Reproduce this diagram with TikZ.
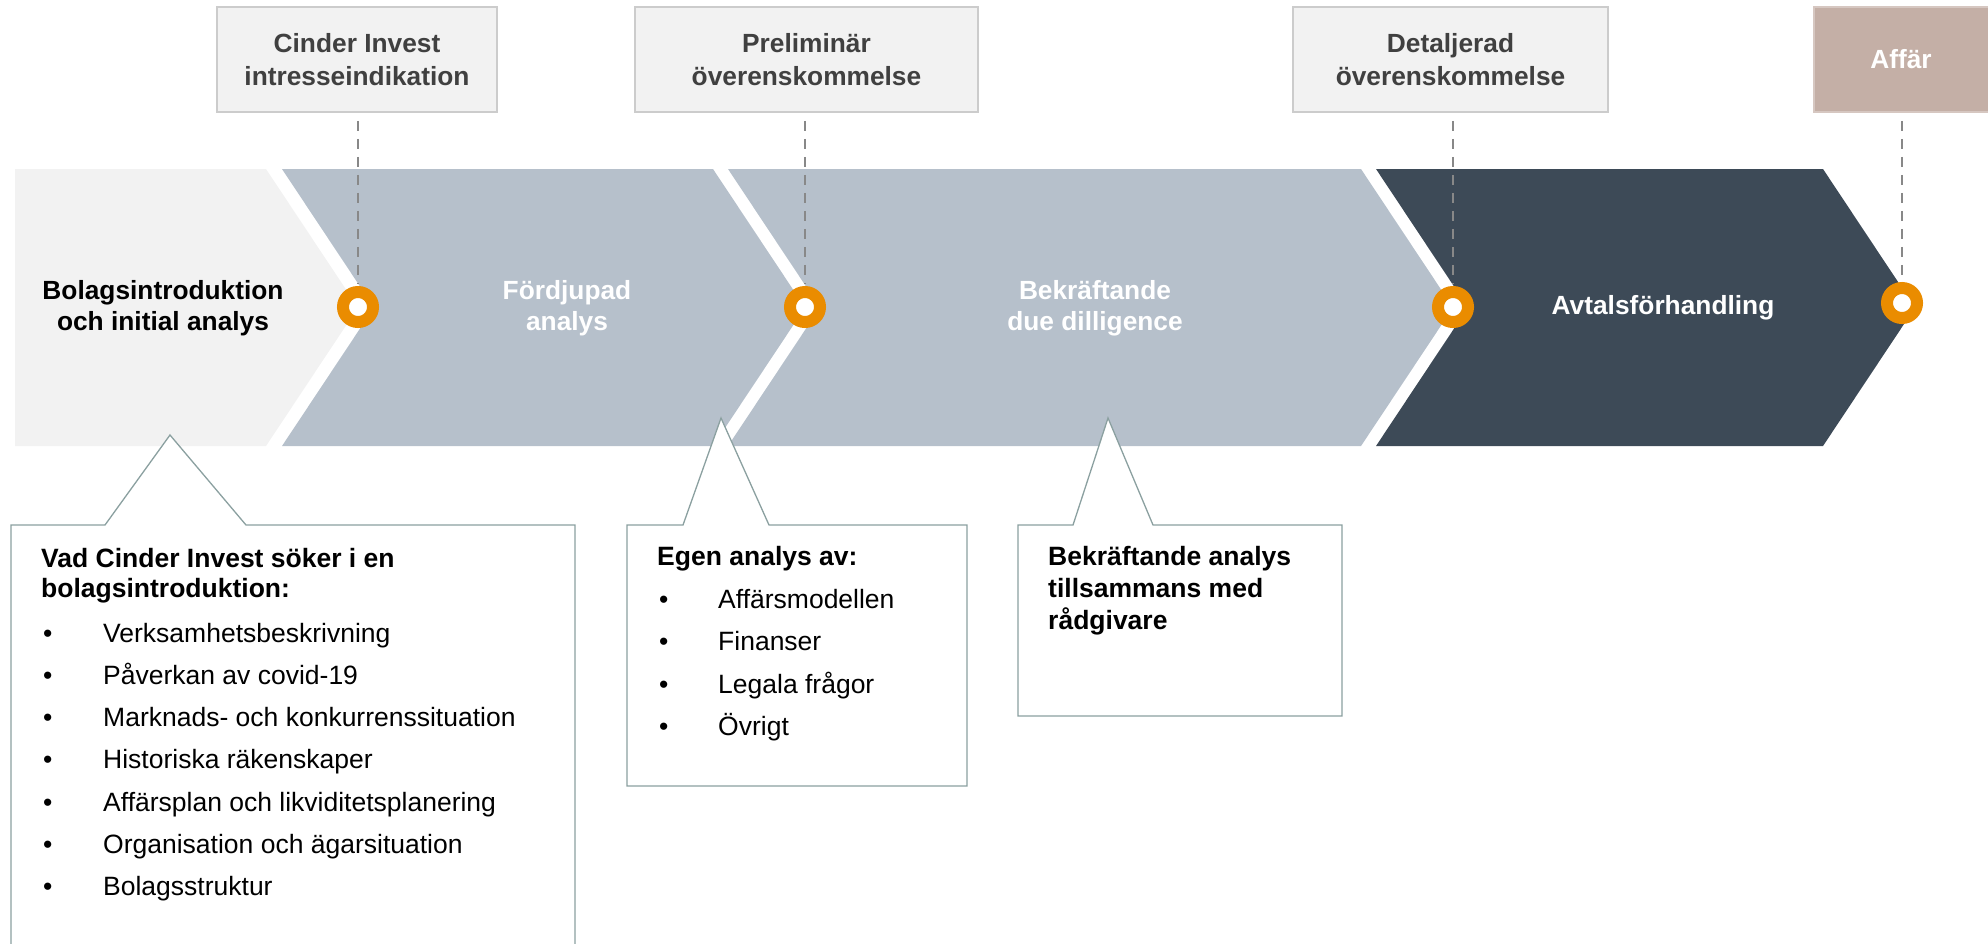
\documentclass[tikz,border=0pt]{standalone}
\usepackage{fontspec}
\setmainfont{Liberation Sans}
\definecolor{chevA}{HTML}{F2F2F2}
\definecolor{chevB}{HTML}{B6C0CB}
\definecolor{chevC}{HTML}{3D4A57}
\definecolor{ringor}{HTML}{EA8C00}
\definecolor{boxfill}{HTML}{F2F2F2}
\definecolor{boxline}{HTML}{CCCCCC}
\definecolor{affar}{HTML}{C4AFA6}
\definecolor{toptext}{HTML}{404040}
\definecolor{dashgray}{HTML}{888888}
\definecolor{callline}{HTML}{8BA0A0}
\begin{document}
\begin{tikzpicture}[x=1pt,y=-1pt,
  lbl/.style={font=\fontsize{26.3}{31}\selectfont\bfseries, align=center, inner sep=0},
  topbox/.style={draw=boxline, line width=1.5pt, fill=boxfill, minimum height=105pt, inner sep=0,
    font=\fontsize{26.3}{33}\selectfont\bfseries, text=toptext, align=center},
  ring/.style={circle, draw=ringor, line width=12pt, fill=white, minimum size=30pt, inner sep=0},
  msline/.style={draw=dashgray, line width=2.7pt, dash pattern=on 10pt off 8pt, shorten <=8pt, shorten >=3pt},
  callout/.style={draw=callline, line width=1.3pt, fill=white},
  head/.style={anchor=base west, inner sep=0, font=\fontsize{26.5}{31}\selectfont\bfseries},
  itm/.style={anchor=base west, inner sep=0, font=\fontsize{26.5}{31}\selectfont},
]
\useasboundingbox (0,0) rectangle (1988,943);
\clip (0,0) rectangle (1988,943);

% chevrons
\fill[chevA] (15,169) -- (266,169) -- (358,307.5) -- (266,446) -- (15,446) -- cycle;
\fill[chevB] (282,169) -- (713,169) -- (805,307.5) -- (713,446) -- (282,446) -- (374,307.5) -- cycle;
\fill[chevB] (728,169) -- (1361,169) -- (1453,307.5) -- (1361,446) -- (728,446) -- (820,307.5) -- cycle;
\fill[chevC] (1376,169) -- (1823,169) -- (1915,307.5) -- (1823,446) -- (1376,446) -- (1468,307.5) -- cycle;

% chevron labels
\node[lbl, text=black] (p1) at (163,308) {Bolagsintroduktion\\och initial analys};
\node[lbl, text=white] (p2) at (567,308) {Fördjupad\\analys};
\node[lbl, text=white] (p3) at (1095,308) {Bekräftande\\due dilligence};
\node[lbl, text=white] (p4) at (1663,308) {Avtalsförhandling};

% callouts
\draw[callout] (11,960) -- (11,525) -- (105,525) -- (170,435) -- (246,525) -- (575,525) -- (575,960);
\draw[callout] (627,786) -- (627,525) -- (683,525) -- (721,418) -- (769,525) -- (967,525) -- (967,786) -- cycle;
\draw[callout] (1018,716) -- (1018,525) -- (1073,525) -- (1108,418) -- (1153,525) -- (1342,525) -- (1342,716) -- cycle;

% top boxes
\node[topbox, minimum width=280pt] (t1) at (357,59.5) {Cinder Invest\\intresseindikation};
\node[topbox, minimum width=343pt] (t2) at (806.5,59.5) {Preliminär\\överenskommelse};
\node[topbox, minimum width=315pt] (t3) at (1450.5,59.5) {Detaljerad\\överenskommelse};
\node[topbox, minimum width=180pt, fill=affar, draw=affar!70!white] (t4) at (1904,59.5) {};
\node[lbl, text=white] (t4l) at (1901,59.5) {Affär};

% milestone rings
\node[ring] (c1) at (358,307) {};
\node[ring] (c2) at (805,307) {};
\node[ring] (c3) at (1453,307) {};
\node[ring] (c4) at (1902,303) {};

% dashed connectors
\draw[msline] (c1 |- t1.south) -- (c1.north);
\draw[msline] (c2 |- t2.south) -- (c2.north);
\draw[msline] (c3 |- t3.south) -- (c3.north);
\draw[msline] (c4 |- t4.south) -- (c4.north);

% callout 1 text
\node[head] (h1a) at (41,567) {Vad Cinder Invest söker i en};
\node[head] (h1b) at (41,597) {bolagsintroduktion:};
\foreach \t [count=\i] in {Verksamhetsbeskrivning,Påverkan av covid-19,Marknads- och konkurrenssituation,Historiska räkenskaper,Affärsplan och likviditetsplanering,Organisation och ägarsituation,Bolagsstruktur}{
  \node[itm] (ba\i) at (43,{642+42.3*(\i-1)}) {\textbullet};
  \node[itm] (la\i) at (103,{642+42.3*(\i-1)}) {\t};
}

% callout 2 text
\node[head] (h2) at (657,565) {Egen analys av:};
\foreach \t [count=\i] in {Affärsmodellen,Finanser,Legala frågor,Övrigt}{
  \node[itm] (bb\i) at (659,{608+42.6*(\i-1)}) {\textbullet};
  \node[itm] (lb\i) at (718,{608+42.6*(\i-1)}) {\t};
}

% callout 3 text
\node[head] (h3a) at (1048,565) {Bekräftande analys};
\node[head] (h3b) at (1048,597) {tillsammans med};
\node[head] (h3c) at (1048,629) {rådgivare};
\end{tikzpicture}
\end{document}
